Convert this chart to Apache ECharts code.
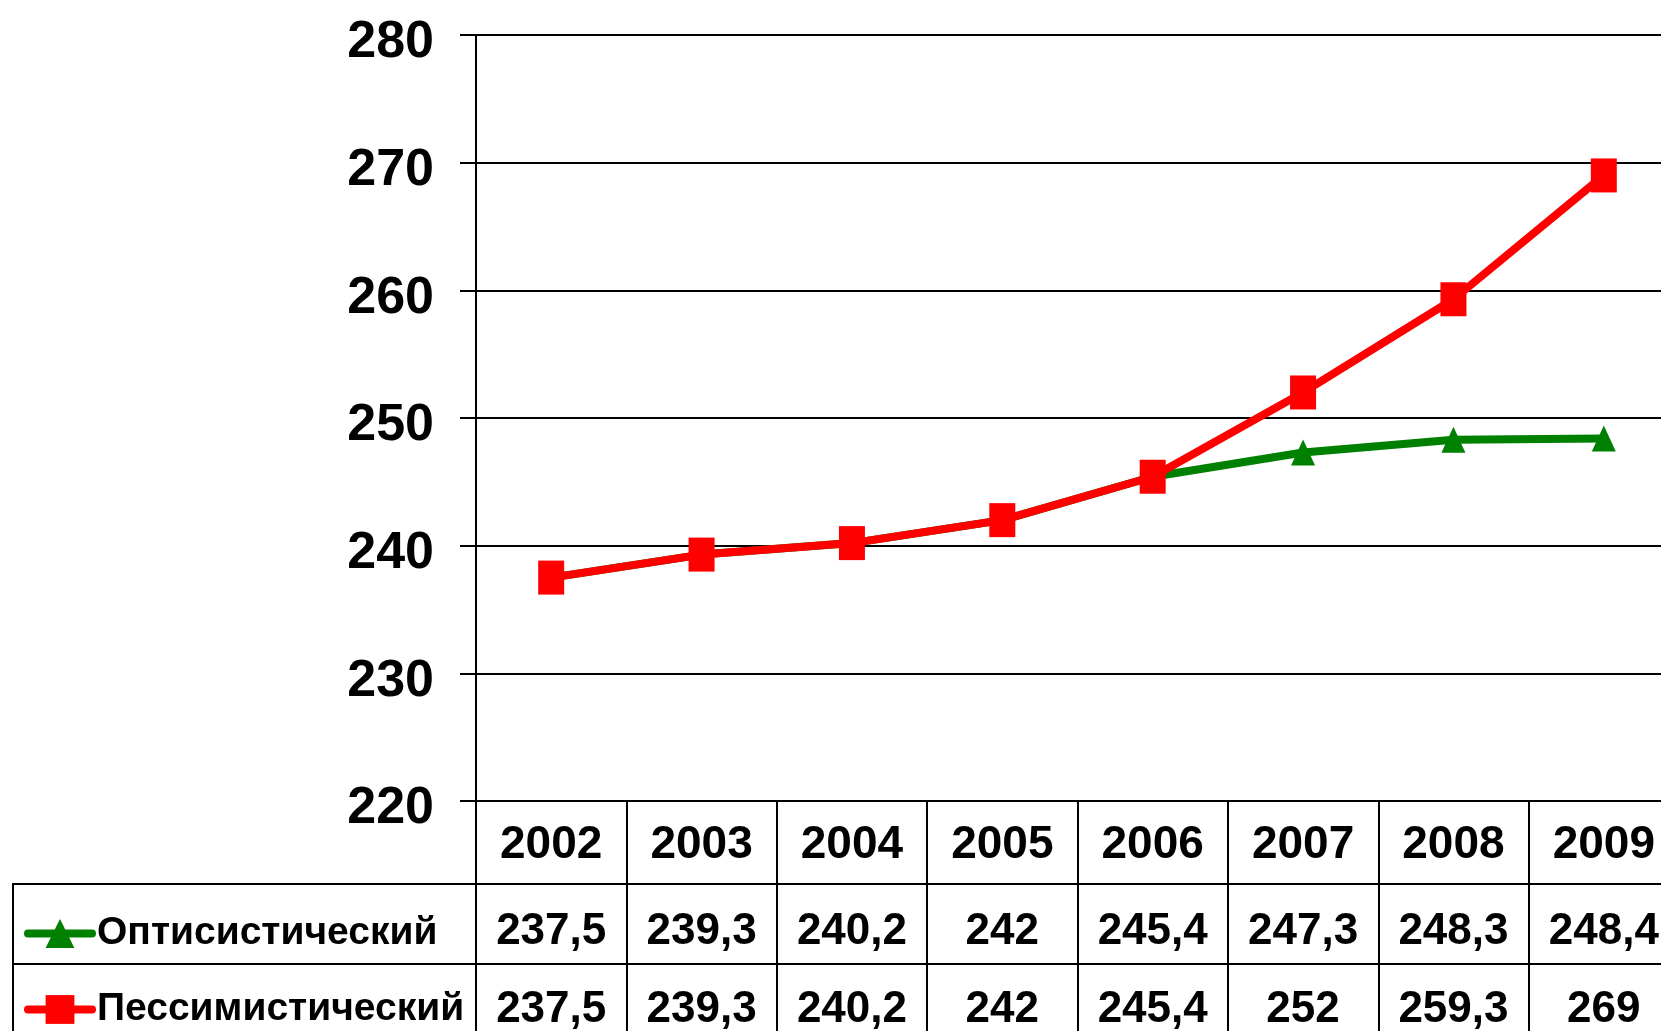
<!DOCTYPE html>
<html>
<head>
<meta charset="utf-8">
<script src="https://cdn.jsdelivr.net/npm/echarts@6/dist/echarts.min.js"></script>
<style>
html,body{margin:0;padding:0;background:#fff;}
#chart{width:1661px;height:1031px;}
</style>
</head>
<body>
<div id="chart"></div>
<script>
const years = ['2002','2003','2004','2005','2006','2007','2008','2009'];
const optimistic = [237.5, 239.3, 240.2, 242, 245.4, 247.3, 248.3, 248.4];
const pessimistic = [237.5, 239.3, 240.2, 242, 245.4, 252, 259.3, 269];
const seriesNames = ['Оптисистический', 'Пессимистический'];
const yMin = 220, yMax = 280, yStep = 10;

const FONT = "'Liberation Sans', Arial, sans-serif";
const fmt = v => String(v).replace('.', ',');
const black = '#000';
const PLOT_W = 1203;

const chart = echarts.init(document.getElementById('chart'));

const cellAxisX = (gi, values, margin) => ({
  type: 'category', gridIndex: gi, data: years, position: 'top',
  axisLine: {show: false}, axisTick: {show: false},
  splitLine: {show: true, interval: 0, lineStyle: {color: black, width: 2}},
  axisLabel: {inside: true, interval: 0, margin: margin, verticalAlign: 'middle',
    fontFamily: FONT, fontWeight: 'bold', fontSize: 44, color: black,
    formatter: (v, i) => fmt(values[i])}
});
const hiddenValue = gi => ({type: 'value', gridIndex: gi, show: false, splitLine: {show: false}});
const cellGrid = (left, width, top) => ({left: left, width: width, top: top, height: 80, show: true,
  outerBoundsMode: 'none', containLabel: false,
  borderColor: black, borderWidth: 2, backgroundColor: 'transparent'});
const legendBox = (name, color, top) => ({
  orient: 'vertical', left: 24, top: top, padding: 0,
  itemWidth: 64, itemHeight: 36,
  data: [name],
  lineStyle: {width: 8, color: color, cap: 'round'},
  textStyle: {fontFamily: FONT, fontWeight: 'bold', fontSize: 39, color: black, lineHeight: 36}
});

chart.setOption({
  animation: false,
  backgroundColor: '#fff',
  grid: [
    {left: 476, width: PLOT_W, top: 35, bottom: 230, outerBoundsMode: 'none', containLabel: false},
    cellGrid(476, PLOT_W, 884),
    cellGrid(476, PLOT_W, 964),
    cellGrid(13, 463, 884),
    cellGrid(13, 463, 964)
  ],
  xAxis: [
    {type: 'category', gridIndex: 0, data: years,
      axisLine: {show: true, lineStyle: {color: black, width: 2}},
      axisTick: {show: true, interval: 0, length: 84, lineStyle: {color: black, width: 2}},
      axisLabel: {interval: 0, margin: 44, verticalAlign: 'middle', fontFamily: FONT, fontWeight: 'bold', fontSize: 46, color: black},
      splitLine: {show: false}},
    cellAxisX(1, optimistic, 48),
    cellAxisX(2, pessimistic, 46),
    hiddenValue(3),
    hiddenValue(4)
  ],
  yAxis: [
    {type: 'value', gridIndex: 0, min: yMin, max: yMax, interval: yStep,
      axisLine: {show: true, lineStyle: {color: black, width: 2}},
      axisTick: {show: true, length: 16, lineStyle: {color: black, width: 2}},
      axisLabel: {margin: 42, verticalAlign: 'top', lineHeight: 16, fontFamily: FONT, fontWeight: 'bold', fontSize: 52, color: black},
      splitLine: {show: true, lineStyle: {color: black, width: 2}}},
    hiddenValue(1), hiddenValue(2), hiddenValue(3), hiddenValue(4)
  ],
  legend: [
    legendBox(seriesNames[0], '#008000', 914),
    legendBox(seriesNames[1], '#ff0000', 990)
  ],
  series: [
    {name: seriesNames[0], type: 'line', xAxisIndex: 0, yAxisIndex: 0, data: optimistic,
      symbol: 'triangle', symbolSize: [24, 26],
      itemStyle: {color: '#008000'}, lineStyle: {color: '#008000', width: 8}},
    {name: seriesNames[1], type: 'line', xAxisIndex: 0, yAxisIndex: 0, data: pessimistic,
      symbol: 'rect', symbolSize: [26, 34],
      itemStyle: {color: '#ff0000'}, lineStyle: {color: '#ff0000', width: 8}}
  ]
});
</script>
</body>
</html>
